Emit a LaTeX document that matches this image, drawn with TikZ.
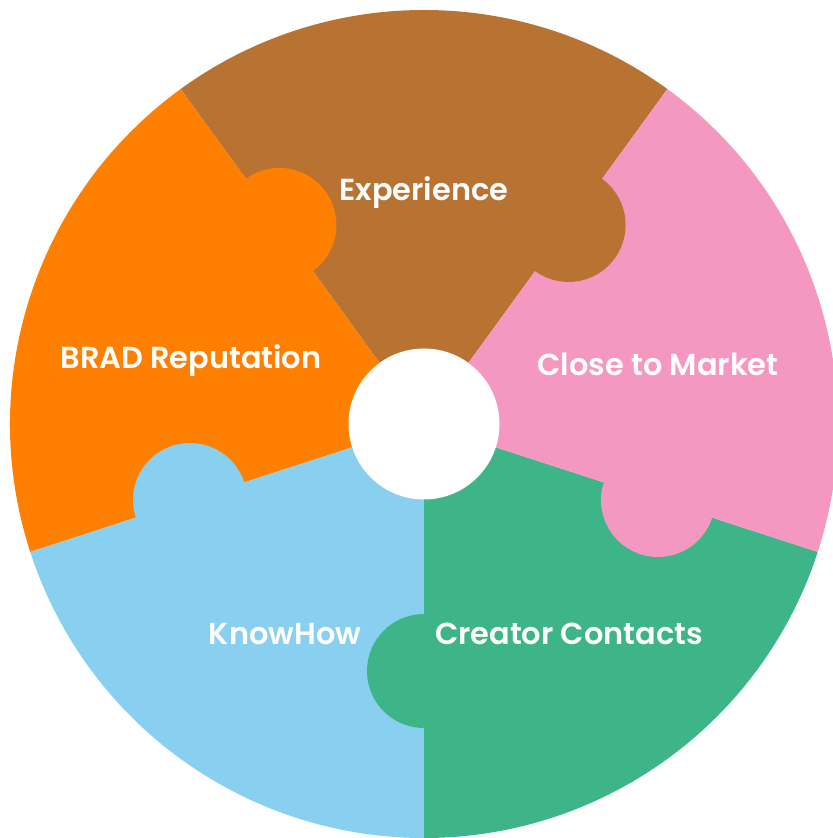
\documentclass[tikz,border=0pt]{standalone}
\usepackage{fontspec}
\setmainfont{Poppins}[BoldFont={Poppins SemiBold}]
\usepackage{tikz}
\usetikzlibrary{positioning}
\usepackage{xcolor}
\definecolor{copper}{HTML}{B87333}
\definecolor{tangerine}{HTML}{FF8000}
\definecolor{pastelpink}{HTML}{F498C2}
\definecolor{mint}{HTML}{3EB489}
\definecolor{babyblue}{HTML}{89CFF0}
\tikzset{lbl/.style={text=white,font=\fontsize{8.65}{11}\selectfont\bfseries,inner sep=0pt}}

\begin{document}
\begin{tikzpicture}
\useasboundingbox (-4.24,-4.14) rectangle (4.08,4.24);
% pieces
\fill[copper] (0,0)--(54:4.14) arc[start angle=54,end angle=126,radius=4.14]--cycle;
\fill[tangerine] (0,0)--(126:4.14) arc[start angle=126,end angle=198,radius=4.14]--cycle;
\fill[babyblue] (0,0)--(198:4.14) arc[start angle=198,end angle=270,radius=4.14]--cycle;
\fill[mint] (0,0)--(270:4.14) arc[start angle=270,end angle=342,radius=4.14]--cycle;
\fill[pastelpink] (0,0)--(-18:4.14) arc[start angle=-18,end angle=54,radius=4.14]--cycle;
% tabs
\fill[copper] (54:2.46) circle(.57);
\fill[tangerine] (126:2.46) circle(.57);
\fill[babyblue] (198:2.46) circle(.57);
\fill[mint] (270:2.47) circle(.57);
\fill[pastelpink] (342:2.46) circle(.57);
% hole
\fill[white] (0,0) circle(.755);
\node[lbl] (exp) at (0,2.31) {Experience};
\node[lbl] (brad) at (-2.33,.63) {BRAD Reputation};
\node[lbl] (market) at (2.34,.60) {Close to Market};
\node[lbl] (know) at (-1.39,-2.10) {KnowHow};
\node[lbl] (creator) at (1.45,-2.10) {Creator Contacts};
\end{tikzpicture}
\end{document}
